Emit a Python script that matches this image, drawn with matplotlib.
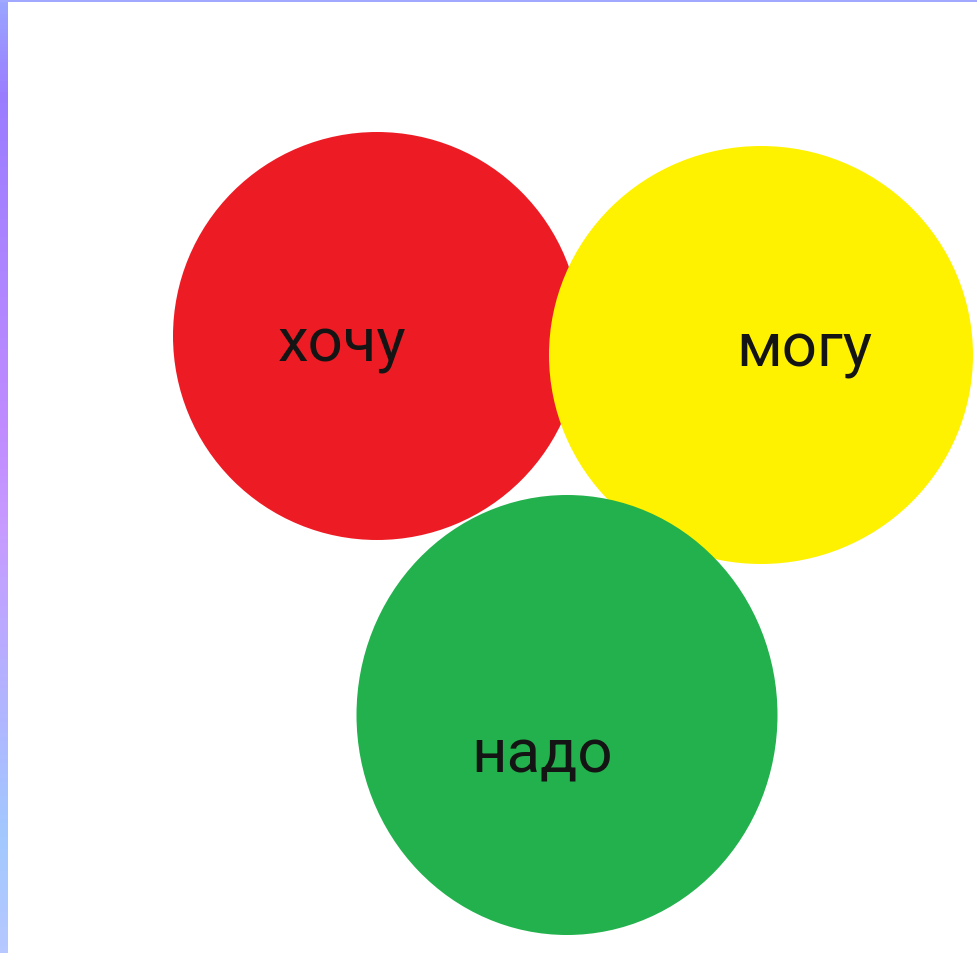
import numpy as np
import matplotlib
matplotlib.use("Agg")
import matplotlib.pyplot as plt
from matplotlib.patches import Ellipse, Rectangle
from matplotlib.colors import LinearSegmentedColormap

# circles of the "хочу / могу / надо" picture, pixel units
labels = ["хочу", "могу", "надо"]
centers_x = [377, 761, 567]
centers_y = [337, 356, 716]
widths = [408, 424, 421]
heights = [408, 418, 440]
colors = ["#ed1c24", "#fff200", "#22b14c"]

# where each word sits (centre x, baseline y)
label_x = [342, 804, 542]
label_y = [362, 367, 773]

# left frame gradient stops (position along height, colour)
frame_stops = [0.0, 0.1, 0.45, 0.55, 0.88, 1.0]
frame_colors = ["#9aa6ff", "#9a7dff", "#c08cff", "#c79aff", "#a2c8ff", "#b6c8ff"]

W, H = 978, 954
fig = plt.figure(figsize=(W / 100, H / 100), dpi=100)
ax = fig.add_axes([0, 0, 1, 1])
ax.set_xlim(0, W)
ax.set_ylim(H, 0)
ax.axis("off")

for i in range(len(labels)):
    e = Ellipse((centers_x[i], centers_y[i]), widths[i], heights[i],
                facecolor=colors[i], edgecolor="none", zorder=2 + i)
    ax.add_patch(e)
    ax.text(label_x[i], label_y[i], labels[i], ha="center", va="baseline",
            fontsize=44.5, family="Roboto", color="#141414", zorder=10)

# frame: gradient strip on the left, flat strip on top
cmap = LinearSegmentedColormap.from_list("frame", list(zip(frame_stops, frame_colors)))
grad = np.linspace(0, 1, 256).reshape(-1, 1)
ax.imshow(grad, cmap=cmap, extent=[0, 8, H, 0], aspect="auto", zorder=20)
ax.add_patch(Rectangle((0, 0), W, 3, facecolor="#a0a8ff", edgecolor="none", zorder=21))
ax.set_xlim(0, W)
ax.set_ylim(H, 0)

fig.savefig("out.png", dpi=100)
